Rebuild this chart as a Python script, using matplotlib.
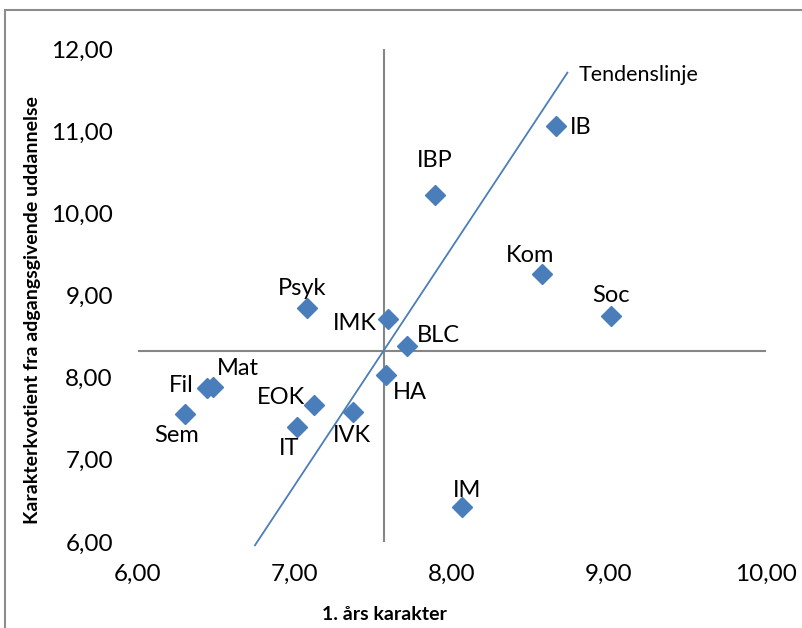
import matplotlib
matplotlib.use("Agg")
import matplotlib.pyplot as plt
from matplotlib.patches import Rectangle
from matplotlib.ticker import FuncFormatter, FixedLocator

# Study programmes: first-year grade vs. admission grade quotient
programmes = ["IB", "IBP", "Kom", "Soc", "Psyk", "IMK", "BLC", "HA",
              "Mat", "Fil", "EOK", "IVK", "IT", "Sem", "IM"]
first_year = [8.66, 7.89, 8.575, 9.01, 7.075, 7.59, 7.713, 7.58,
              6.48, 6.438, 7.123, 7.371, 7.015, 6.30, 8.064]
admission = [11.06, 10.22, 9.26, 8.75, 8.85, 8.71, 8.386, 8.033,
             7.883, 7.871, 7.671, 7.586, 7.403, 7.558, 6.422]

# Label placement (pixel offsets from the marker, horizontal alignment)
label_dx = [14, 0, -12, 0, -5, -11, 10, 7, 25, -13, -9, -1, -8, -9, 5]
label_dy = [-8, 28, 12, 14, 13, -11, 4, -24, 12, -4, 1, -30, -28, -28, 10]
label_ha = ["left", "center", "center", "center", "center", "right", "left",
            "left", "center", "right", "right", "center", "center", "center",
            "center"]

# Quadrant divider positions
x_mid = 7.57
y_mid = 8.325

# Hand-drawn trend line end points
trend_x = [6.745, 8.735]
trend_y = [5.96, 11.712]
trend_name = "Tendenslinje"

x_ticks = [6, 7, 8, 9, 10]
y_ticks = [6, 7, 8, 9, 10, 11, 12]

plt.rcParams['font.family'] = ['Lato', 'DejaVu Sans']

W, H = 803, 628
fig = plt.figure(figsize=(W / 100, H / 100), dpi=100)
ax = fig.add_axes([138 / W, (H - 542) / H, 628 / W, 493 / H])
ax.set_xlim(6, 10)
ax.set_ylim(6, 12)
for s in ax.spines.values():
    s.set_visible(False)

blue = "#4A7EBB"
grey = "#868686"

ax.axhline(y_mid, color=grey, lw=1.5, zorder=1)
ax.axvline(x_mid, color=grey, lw=1.5, zorder=1)

ax.plot(trend_x, trend_y, color=blue, lw=1.3, zorder=2, clip_on=False)
ax.annotate(trend_name, xy=(trend_x[1], trend_y[1]), xytext=(11, -8),
            textcoords="offset pixels", ha="left", va="baseline",
            fontsize=15.5, color="black")

ax.plot(first_year, admission, ls="none", marker="D", ms=9.7,
        color=blue, mec=blue, zorder=3, clip_on=False)

for name, xv, yv, dx, dy, ha in zip(programmes, first_year, admission,
                                    label_dx, label_dy, label_ha):
    ax.annotate(name, xy=(xv, yv), xytext=(dx, dy),
                textcoords="offset pixels", ha=ha, va="baseline",
                fontsize=17, color="black")

fmt = FuncFormatter(lambda v, p: f"{v:.2f}".replace(".", ","))
ax.xaxis.set_major_locator(FixedLocator(x_ticks))
ax.yaxis.set_major_locator(FixedLocator(y_ticks))
ax.xaxis.set_major_formatter(fmt)
ax.yaxis.set_major_formatter(fmt)
ax.tick_params(axis="x", length=0, pad=16, labelsize=17.5)
ax.tick_params(axis="y", length=0, pad=18, labelsize=17.5)

fig.text(384 / W, 1 - 614 / H, "1. års karakter", ha="center", va="center",
         fontsize=14, fontweight="bold")
fig.text(33 / W, 1 - 310 / H, "Karakterkvotient fra adgangsgivende uddannelse",
         ha="center", va="center", rotation=90, fontsize=14, fontweight="bold")

# Chart frame
fig.patches.append(Rectangle((5 / W, -0.1), 1.2, 1.1 - 10.5 / H,
                             transform=fig.transFigure, fill=False,
                             edgecolor="#8c8c8c", lw=1.5))

fig.savefig("out.png", dpi=100)
